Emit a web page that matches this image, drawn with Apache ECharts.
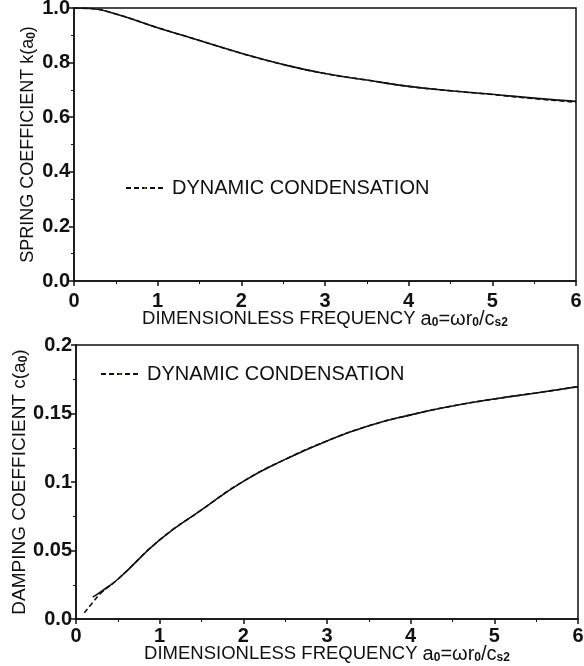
<!DOCTYPE html>
<html>
<head>
<meta charset="utf-8">
<script src="https://cdn.jsdelivr.net/npm/echarts@6/dist/echarts.min.js"></script>
<style>
  html, body { margin: 0; padding: 0; background: #fff; }
  #chart { width: 584px; height: 666px; }
</style>
</head>
<body>
<div id="chart"></div>
<script>
// 数据：刚度系数 k(a0)
const springX = [0, 0.2, 0.5, 1, 1.5, 2, 2.5, 3, 3.5, 4, 4.5, 5, 5.5, 6];
const springExact = [1.0, 0.998, 0.978, 0.928, 0.881, 0.834, 0.793, 0.760, 0.736, 0.713, 0.697, 0.684, 0.670, 0.658];
const springCondensed = [1.0, 0.998, 0.978, 0.928, 0.881, 0.834, 0.793, 0.760, 0.736, 0.713, 0.697, 0.683, 0.668, 0.655];

// 数据：阻尼系数 c(a0)
const dampX = [0.2, 0.3, 0.5, 1, 1.5, 2, 2.5, 3, 3.5, 4, 4.5, 5, 5.5, 6];
const dampExact = [0.016, 0.020, 0.029, 0.0577, 0.0796, 0.1005, 0.1165, 0.130, 0.141, 0.149, 0.1555, 0.1606, 0.165, 0.1696];
const dampCondX = [0.1, 0.2, 0.3, 0.5, 1, 1.5, 2, 2.5, 3, 3.5, 4, 4.5, 5, 5.5, 6];
const dampCondensed = [0.0045, 0.012, 0.019, 0.029, 0.0577, 0.0796, 0.1005, 0.1165, 0.130, 0.141, 0.149, 0.1555, 0.1606, 0.165, 0.1696];

const xTicks = [0, 1, 2, 3, 4, 5, 6];
const springTicks = [0, 0.2, 0.4, 0.6, 0.8, 1.0];
const dampTicks = [0, 0.05, 0.1, 0.15, 0.2];

const legendName = "DYNAMIC CONDENSATION";
const font = "Liberation Sans";

const zip = (xs, ys) => xs.map((x, i) => [x, ys[i]]);

// 下标样式
const subStyle = { fontFamily: font, fontSize: 12, fontWeight: "bold", color: "#111", padding: [8, 0, 0, 0], lineHeight: 14 };

const xAxisOf = (gridIndex, margin, gap) => ({
  gridIndex,
  type: "value",
  min: xTicks[0],
  max: xTicks[xTicks.length - 1],
  interval: 1,
  name: "DIMENSIONLESS FREQUENCY {f|a}{s|0}{f|=ωr}{s|0}{f|/c}{s|s2}",
  nameLocation: "middle",
  nameGap: gap,
  nameMoveOverlap: false,
  nameTextStyle: {
    fontFamily: font, fontSize: 18.5, lineHeight: 22, color: "#111",
    rich: { f: { fontFamily: font, fontSize: 20, color: "#111", lineHeight: 22 }, s: subStyle }
  },
  axisLine: { show: true, lineStyle: { color: "#111", width: 1.5 } },
  axisTick: { show: true, length: 5, lineStyle: { color: "#111", width: 1.5 } },
  minorTick: { show: true, splitNumber: 2, length: 3, lineStyle: { color: "#111" } },
  axisLabel: { fontFamily: font, fontSize: 20, fontWeight: "bold", color: "#111", margin },
  splitLine: { show: false }
});

const yAxisOf = (gridIndex, name, nameSize, gap, ticks, step, fmt) => ({
  gridIndex,
  type: "value",
  min: ticks[0],
  max: ticks[ticks.length - 1],
  interval: step,
  name,
  nameLocation: "middle",
  nameGap: gap,
  nameMoveOverlap: false,
  nameTextStyle: { fontFamily: font, fontSize: nameSize, lineHeight: 22, color: "#111", rich: { s: subStyle } },
  axisLine: { show: true, lineStyle: { color: "#111", width: 1.5 } },
  axisTick: { show: true, length: 5, lineStyle: { color: "#111", width: 1.5 } },
  minorTick: { show: true, splitNumber: 2, length: 3, lineStyle: { color: "#111" } },
  axisLabel: { fontFamily: font, fontSize: 20, fontWeight: "bold", color: "#111", margin: 4, formatter: fmt },
  splitLine: { show: false }
});

const lineSeries = (name, idx, data, dashed) => ({
  name,
  type: "line",
  xAxisIndex: idx,
  yAxisIndex: idx,
  data,
  smooth: true,
  symbol: "none",
  silent: true,
  lineStyle: { color: "#111", width: 1.6, type: dashed ? [5, 3] : "solid" }
});

const legendOf = (left, top) => ({
  data: [legendName], left, top, padding: 0,
  itemWidth: 38, itemHeight: 2, itemGap: 0, selectedMode: false,
  textStyle: { fontFamily: font, fontSize: 20, color: "#111", padding: [0, 0, 0, 3] }
});

var myChart = echarts.init(document.getElementById("chart"), null, { renderer: "canvas" });
myChart.setOption({
  animation: false,
  backgroundColor: "#fff",
  grid: [
    { left: 74, right: 8, top: 8, height: 273, show: true, borderColor: "#111", borderWidth: 1.5, outerBoundsMode: "none", containLabel: false },
    { left: 76, right: 6, top: 345, height: 274, show: true, borderColor: "#111", borderWidth: 1.5, outerBoundsMode: "none", containLabel: false }
  ],
  legend: [legendOf(125, 178), legendOf(100, 364)],
  xAxis: [xAxisOf(0, 10, 27), xAxisOf(1, 7, 24)],
  yAxis: [
    yAxisOf(0, "SPRING COEFFICIENT k(a{s|0})", 18, 35, springTicks, 0.2, (v) => v.toFixed(1)),
    yAxisOf(1, "DAMPING COEFFICIENT c(a{s|0})", 19, 45, dampTicks, 0.05, (v) => (v === 0 ? "0.0" : String(+v.toFixed(2))))
  ],
  series: [
    lineSeries("exact", 0, zip(springX, springExact), false),
    lineSeries(legendName, 0, zip(springX, springCondensed), true),
    lineSeries("exact", 1, zip(dampX, dampExact), false),
    lineSeries(legendName, 1, zip(dampCondX, dampCondensed), true)
  ]
});
</script>
</body>
</html>
